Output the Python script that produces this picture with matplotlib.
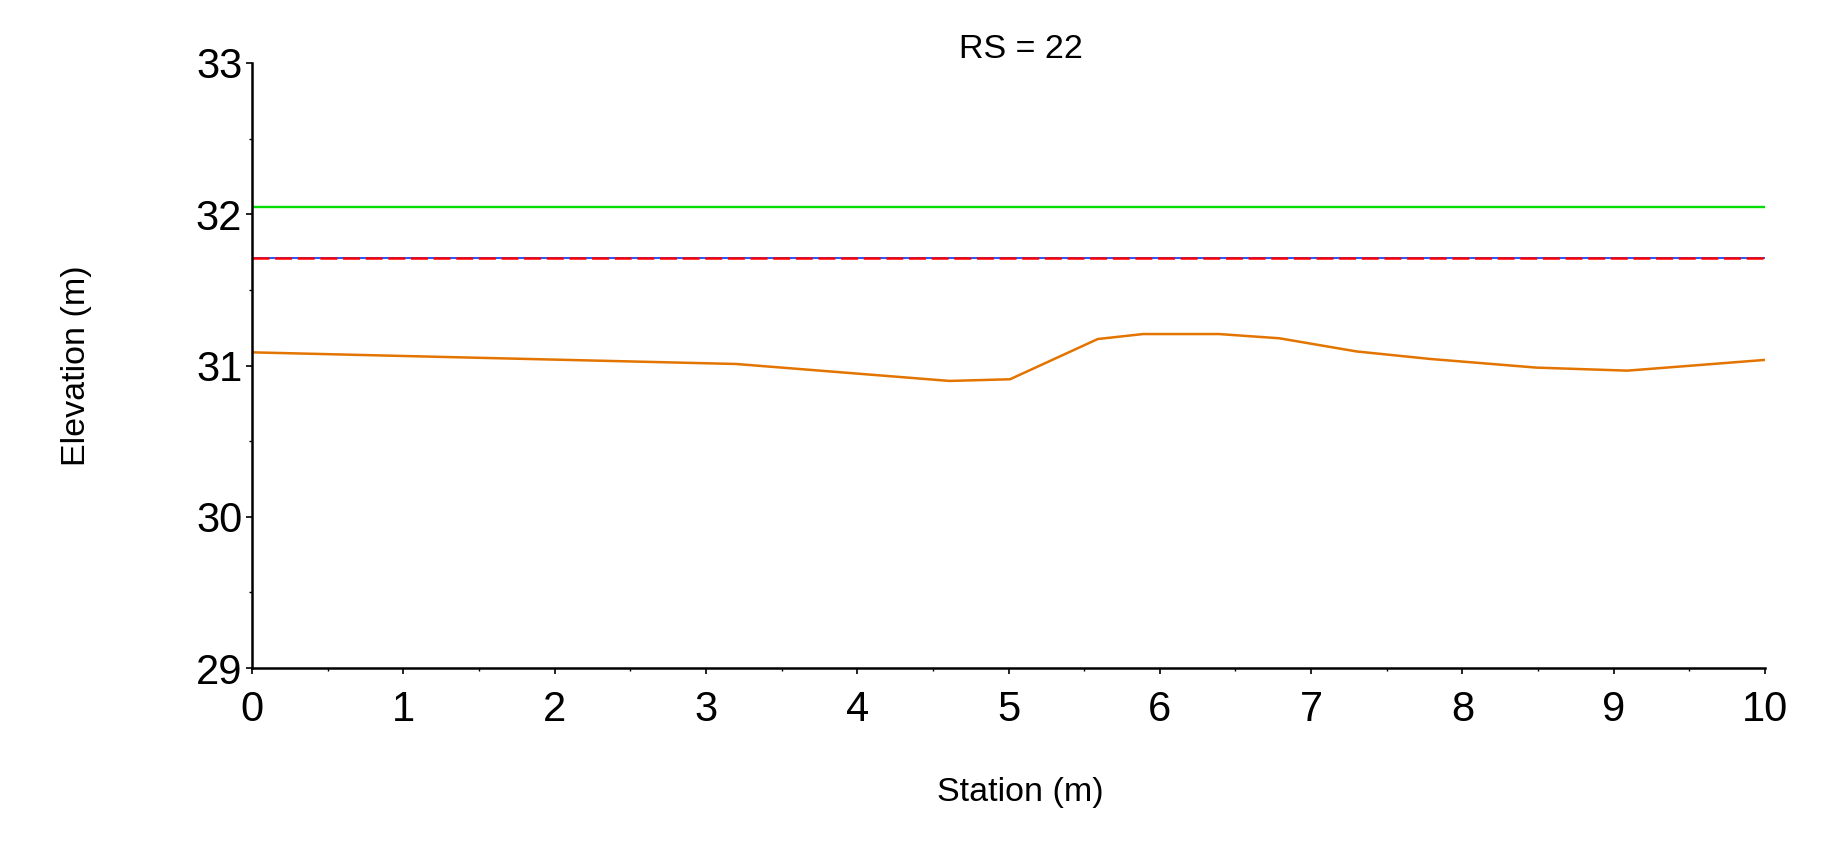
import matplotlib
matplotlib.use("Agg")
import matplotlib.pyplot as plt
from matplotlib.ticker import MultipleLocator

plt.rcParams['font.family'] = ['Liberation Sans', 'DejaVu Sans']
plt.rcParams['lines.scale_dashes'] = False

# Data
title = "RS = 22"
xlabel = "Station (m)"
ylabel = "Elevation (m)"
ground_station = [0.0, 3.20, 4.61, 5.01, 5.59, 5.89, 6.39, 6.79, 7.30, 7.79, 8.49, 9.09, 10.0]
ground_elev = [31.087, 31.010, 30.898, 30.909, 31.175, 31.208, 31.208, 31.180, 31.093, 31.043, 30.986, 30.966, 31.037]
egl_elev = 32.048
ws_elev = 31.713
crit_elev = 31.713
x_range = [0, 10]
y_range = [29, 33]

fig = plt.figure(figsize=(18.45, 8.58), dpi=100)
ax = fig.add_axes([252/1845, 1-668/858, (1765-252)/1845, (668-63)/858])

ax.plot(x_range, [egl_elev, egl_elev], color='#00DD00', lw=1.7, solid_capstyle='butt')
ax.plot(x_range, [crit_elev, crit_elev], color='#2255FF', lw=1.4, solid_capstyle='butt')
ax.plot(x_range, [ws_elev, ws_elev], color='#FF0000', lw=1.8, linestyle=(0, (12.2, 4.1)))
ax.plot(ground_station, ground_elev, color='#E37400', lw=1.8)

ax.set_xlim(*x_range)
ax.set_ylim(*y_range)
ax.spines['top'].set_visible(False)
ax.spines['right'].set_visible(False)
ax.spines['left'].set_linewidth(1.8)
ax.spines['bottom'].set_linewidth(1.8)
ax.xaxis.set_major_locator(MultipleLocator(1))
ax.xaxis.set_minor_locator(MultipleLocator(0.5))
ax.yaxis.set_major_locator(MultipleLocator(1))
ax.yaxis.set_minor_locator(MultipleLocator(0.5))
ax.tick_params(which='major', length=4, width=1.2, labelsize=30, direction='out')
ax.tick_params(which='minor', length=2.5, width=1.0, direction='out')
ax.tick_params(axis='x', which='major', pad=12)
ax.tick_params(axis='y', which='major', pad=3)

fig.text(1021/1845, 1-50/858, title, ha='center', va='center', fontsize=24.5)
fig.text(1020/1845, 1-792/858, xlabel, ha='center', va='center', fontsize=24.5)
fig.text(77/1845, 1-366/858, ylabel, ha='center', va='center', rotation=90, fontsize=24.5)

fig.savefig("out.png", dpi=100)
